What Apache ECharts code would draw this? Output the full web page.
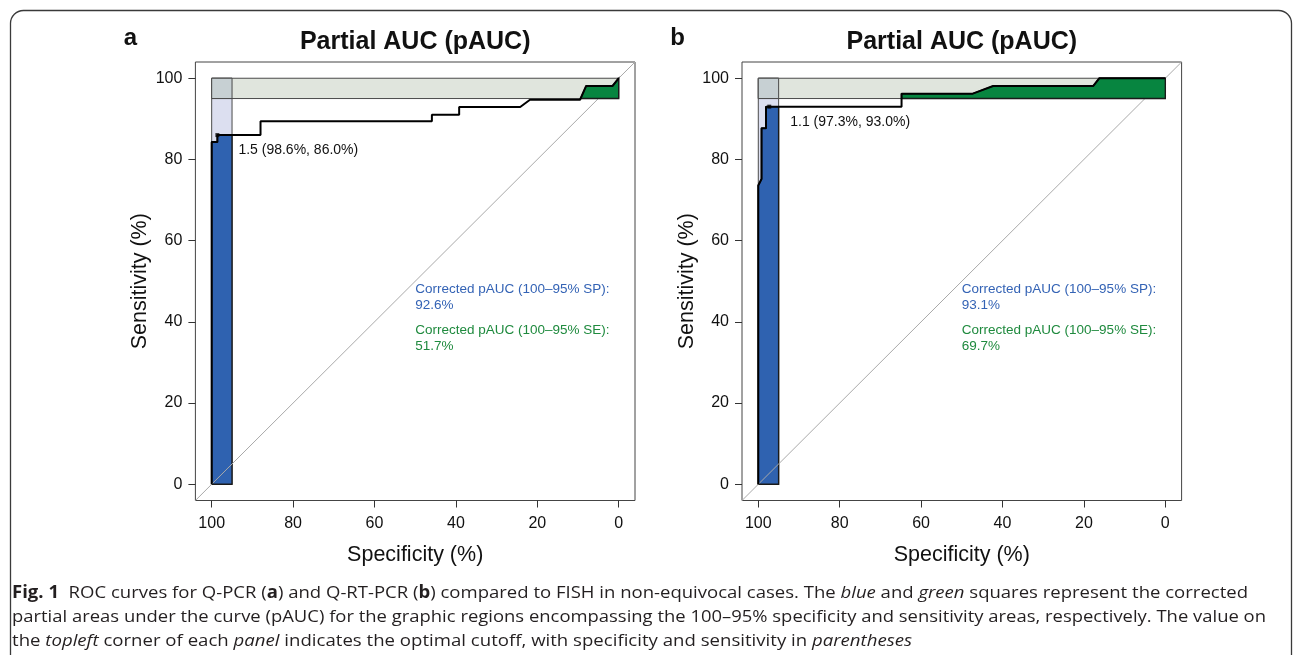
<!DOCTYPE html>
<html><head><meta charset="utf-8">
<script src="https://cdn.jsdelivr.net/npm/echarts@6/dist/echarts.min.js"></script>
<style>html,body{margin:0;padding:0;background:#fff}#c{width:1293px;height:655px}</style>
</head><body><div id="c"></div>
<script>
// ---------- data ----------
const panelLetters = ['a', 'b'];
const panelTitle = 'Partial AUC (pAUC)';
const xTicks = [0, 20, 40, 60, 80, 100];
const yTicks = [0, 20, 40, 60, 80, 100];
const xAxisName = 'Specificity (%)';
const yAxisName = 'Sensitivity (%)';

// ROC curve, panel a (Q-PCR)
const rocA_spec = [100, 100, 98.6, 98.6, 88.0, 88.0, 45.9, 45.9, 39.2, 39.2, 24.2, 21.8, 9.5, 8.0, 1.5, 0];
const rocA_sens = [0, 84.3, 84.3, 86.0, 86.0, 89.4, 89.4, 91.0, 91.0, 92.9, 92.9, 94.7, 94.7, 98.1, 98.1, 100];
// ROC curve, panel b (Q-RT-PCR)
const rocB_spec = [100, 100, 99.2, 99.2, 98.1, 98.1, 97.3, 64.8, 64.8, 47.3, 42.3, 17.7, 16.2, 0];
const rocB_sens = [0, 73.6, 75.2, 87.7, 87.7, 93.0, 93.0, 93.0, 96.2, 96.2, 98.1, 98.1, 100, 100];

const bestPoint = [[98.6, 86.0], [97.3, 93.0]];
const bestLabel = ['1.5 (98.6%, 86.0%)', '1.1 (97.3%, 93.0%)'];
const pAUC_SP = ['92.6%', '93.1%'];
const pAUC_SE = ['51.7%', '69.7%'];
const partialRange = [100, 95];

const captionLines = [
  [['Fig. 1', 'b'], ['  ROC curves for Q-PCR (', 'n'], ['a', 'b'], [') and Q-RT-PCR (', 'n'], ['b', 'b'], [') compared to FISH in non-equivocal cases. The ', 'n'], ['blue', 'i'], [' and ', 'n'], ['green', 'i'], [' squares represent the corrected', 'n']],
  [['partial areas under the curve (pAUC) for the graphic regions encompassing the 100–95% specificity and sensitivity areas, respectively. The value on', 'n']],
  [['the ', 'n'], ['topleft', 'i'], [' corner of each ', 'n'], ['panel', 'i'], [' indicates the optimal cutoff, with specificity and sensitivity in ', 'n'], ['parentheses', 'i']]
];

// ---------- layout / style ----------
const grids = [
  { left: 195.4, top: 62, width: 439.6, height: 438.5 },
  { left: 742, top: 62, width: 439.6, height: 438.5 }
];
const FONT = '"Liberation Sans", Arial, Helvetica, sans-serif';
const C = {
  lav: '#dcdff0', band: '#e0e5dd', overlap: '#c7d0d3', rectStroke: '#4a4a4a',
  blue: '#2f62b0', green: '#078540', polyStroke: '#1a1a1a', diag: '#a9a9a9',
  blueText: '#3463b5', greenText: '#1f8a3e'
};

function zip(a, b) { return a.map((v, i) => [v, b[i]]); }
const curves = [zip(rocA_spec, rocA_sens), zip(rocB_spec, rocB_sens)];

// part of curve with spec >= lo (curve begins at spec 100)
function headBySpec(pts, lo) {
  const out = [];
  for (let i = 0; i < pts.length; i++) {
    if (pts[i][0] >= lo) out.push(pts[i]);
    else {
      const p = pts[i - 1], q = pts[i];
      const t = (p[0] - lo) / (p[0] - q[0]);
      out.push([lo, p[1] + t * (q[1] - p[1])]);
      break;
    }
  }
  return out;
}
// part of curve with sens >= lo (curve ends at sens 100)
function tailBySens(pts, lo) {
  let i = pts.findIndex(p => p[1] >= lo);
  const out = [];
  if (i > 0 && pts[i][1] > lo) {
    const p = pts[i - 1], q = pts[i];
    const t = (lo - p[1]) / (q[1] - p[1]);
    out.push([p[0] + t * (q[0] - p[0]), lo]);
  }
  for (; i < pts.length; i++) out.push(pts[i]);
  return out;
}

function polySeries(gi, pts, fill, stroke, lw, z) {
  return {
    type: 'custom', xAxisIndex: gi, yAxisIndex: gi, z: z, silent: true, clip: false,
    data: [[50, 50]],
    renderItem: (params, api) => ({
      type: 'polygon',
      shape: { points: pts.map(p => api.coord(p)) },
      style: { fill: fill, stroke: stroke, lineWidth: lw, lineJoin: 'miter' }
    })
  };
}
function textSeries(gi, items, z) {
  return {
    type: 'custom', xAxisIndex: gi, yAxisIndex: gi, z: z, silent: true, clip: false,
    data: items.map(it => [it.x, it.y]),
    renderItem: (params, api) => {
      const it = items[params.dataIndex];
      const c = api.coord([it.x, it.y]);
      return {
        type: 'text', x: c[0] + (it.dx || 0), y: c[1] + (it.dy || 0),
        style: { text: it.text, fill: it.color, font: it.font, textAlign: 'left', textVerticalAlign: 'top', lineHeight: it.lh }
      };
    }
  };
}

const series = [];
const xAxes = [], yAxes = [];
const hi = partialRange[0], lo = partialRange[1];
for (let g = 0; g < 2; g++) {
  const pts = curves[g];
  xAxes.push({
    type: 'value', gridIndex: g, min: -4, max: 104, inverse: true, position: 'bottom',
    axisLine: { show: false, onZero: false }, splitLine: { show: false },
    axisTick: { show: true, inside: false, length: 7, customValues: xTicks, lineStyle: { color: '#333', width: 1 } },
    axisLabel: { customValues: xTicks, margin: 15, fontSize: 16, fontFamily: FONT, color: '#111' },
    name: xAxisName, nameLocation: 'middle', nameGap: 44,
    nameTextStyle: { fontSize: 21.5, fontFamily: FONT, color: '#111' }
  });
  yAxes.push({
    type: 'value', gridIndex: g, min: -4, max: 104, position: 'left',
    axisLine: { show: false, onZero: false }, splitLine: { show: false },
    axisTick: { show: true, inside: false, length: 7, customValues: yTicks, lineStyle: { color: '#333', width: 1 } },
    axisLabel: { customValues: yTicks, margin: 13, fontSize: 16, fontFamily: FONT, color: '#111' },
    name: yAxisName, nameLocation: 'middle', nameGap: 44,
    nameTextStyle: { fontSize: 21.5, fontFamily: FONT, color: '#111' }
  });
  // max-area rectangles
  series.push(polySeries(g, [[hi, 0], [lo, 0], [lo, hi], [hi, hi]], C.lav, C.rectStroke, 1, 1));
  series.push(polySeries(g, [[hi, lo], [0, lo], [0, hi], [hi, hi]], C.band, C.rectStroke, 1, 1));
  series.push(polySeries(g, [[hi, lo], [lo, lo], [lo, hi], [hi, hi]], C.overlap, C.rectStroke, 1, 1));
  // pAUC (SP focus) - blue
  const spPoly = headBySpec(pts, lo).concat([[lo, 0]]);
  series.push(polySeries(g, spPoly, C.blue, C.polyStroke, 1.4, 2));
  // identity line
  series.push({
    type: 'line', xAxisIndex: g, yAxisIndex: g, z: 3, silent: true, symbol: 'none',
    data: [[104, -4], [-4, 104]], lineStyle: { color: C.diag, width: 1 }
  });
  // pAUC (SE focus) - green
  const sePoly = tailBySens(pts, lo).concat([[0, lo]]);
  series.push(polySeries(g, sePoly, C.green, C.polyStroke, 1.4, 4));
  // ROC curve
  series.push({
    type: 'line', xAxisIndex: g, yAxisIndex: g, z: 5, silent: true, symbol: 'none',
    data: pts, lineStyle: { color: '#000', width: 2 }
  });
  // best threshold point
  series.push({
    type: 'scatter', xAxisIndex: g, yAxisIndex: g, z: 6, silent: true,
    symbol: 'rect', symbolSize: 4, itemStyle: { color: '#000' }, data: [bestPoint[g]]
  });
  series.push(textSeries(g, [
    { x: bestPoint[g][0], y: bestPoint[g][1], dx: 21, dy: 7, text: bestLabel[g], color: '#111', font: '14px ' + FONT, lh: 16 },
    { x: 50, y: 50, text: 'Corrected pAUC (100–95% SP):\n' + pAUC_SP[g], color: C.blueText, font: '13.5px ' + FONT, lh: 16 },
    { x: 50, y: 40, text: 'Corrected pAUC (100–95% SE):\n' + pAUC_SE[g], color: C.greenText, font: '13.5px ' + FONT, lh: 16 }
  ], 6));
}

// ---------- caption (measured & fitted) ----------
const capFont = '"Open Sans", "Noto Sans", sans-serif';
const capSize = 17;
const capTargets = [{ y: 593, w: 1236 }, { y: 617, w: 1254 }, { y: 641, w: 900 }];
const cv = document.createElement('canvas').getContext('2d');
function segFont(k) {
  return (k === 'i' ? 'italic ' : 'normal ') + (k === 'b' ? 'bold ' : 'normal ') + capSize + 'px ' + capFont;
}
const graphics = [];
graphics.push({
  type: 'rect', silent: true, shape: { x: 10.5, y: 10.5, width: 1281, height: 720, r: 13 },
  style: { fill: 'none', stroke: '#3a3a3a', lineWidth: 1.3 }
});
captionLines.forEach((segs, li) => {
  let w = 0, txt = '';
  segs.forEach(([s, k]) => {
    cv.font = segFont(k); w += cv.measureText(s).width;
    txt += (k === 'n') ? s : '{' + k + '|' + s + '}';
  });
  graphics.push({
    type: 'text', silent: true, x: 12, y: capTargets[li].y, scaleX: capTargets[li].w / w,
    style: {
      text: txt, fill: '#231f20', fontSize: capSize, fontFamily: capFont, textAlign: 'left', textVerticalAlign: 'middle',
      rich: {
        b: { fontSize: capSize, fontFamily: capFont, fontWeight: 'bold', fill: '#231f20' },
        i: { fontSize: capSize, fontFamily: capFont, fontStyle: 'italic', fill: '#231f20' }
      }
    }
  });
});
// panel titles & letters
grids.forEach((gr, g) => {
  graphics.push({ type: 'text', silent: true, x: gr.left + gr.width / 2, y: 42,
    style: { text: panelTitle, fill: '#111', font: 'bold 25px ' + FONT, textAlign: 'center', textVerticalAlign: 'middle' } });
  graphics.push({ type: 'text', silent: true, x: g === 0 ? 130.5 : 677.5, y: 38,
    style: { text: panelLetters[g], fill: '#111', font: 'bold 24px ' + FONT, textAlign: 'center', textVerticalAlign: 'middle' } });
});

const chart = echarts.init(document.getElementById('c'), null, { renderer: 'canvas' });
chart.setOption({
  animation: false,
  backgroundColor: '#fff',
  grid: grids.map(g => Object.assign({ show: true, borderColor: '#444', borderWidth: 1, backgroundColor: 'transparent', containLabel: false }, g)),
  xAxis: xAxes,
  yAxis: yAxes,
  series: series,
  graphic: graphics
});
</script></body></html>
